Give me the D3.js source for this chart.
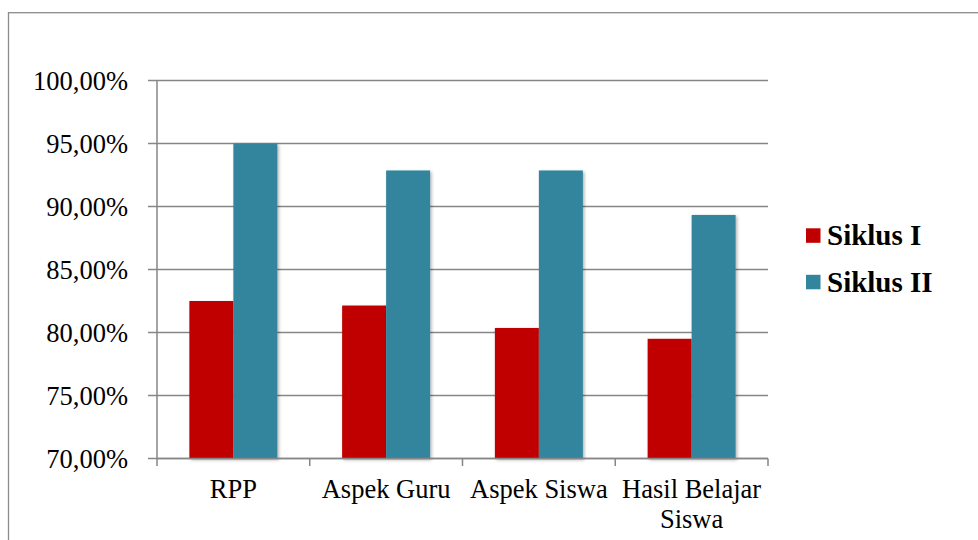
<!DOCTYPE html>
<html>
<head>
<meta charset="utf-8">
<script src="https://cdn.jsdelivr.net/npm/d3@7"></script>
<style>
  html, body { margin: 0; padding: 0; background: #fff; }
  svg { display: block; }
  text { font-family: "Liberation Serif", "Times New Roman", serif; fill: #000; }
</style>
</head>
<body>
<svg id="chart" width="978" height="540"></svg>
<script>
const categories = ["RPP", "Aspek Guru", "Aspek Siswa", "Hasil Belajar Siswa"];
const categoryLines = [["RPP"], ["Aspek Guru"], ["Aspek Siswa"], ["Hasil Belajar", "Siswa"]];
const seriesNames = ["Siklus I", "Siklus II"];
const siklus1 = [0.825, 0.8214, 0.8036, 0.795];
const siklus2 = [0.95, 0.9286, 0.9286, 0.8933];
const yTicks = [0.70, 0.75, 0.80, 0.85, 0.90, 0.95, 1.00];
const colors = ["#C00000", "#31859C"];

const svg = d3.select("#chart");
const W = 978, H = 540;
const plot = { left: 157, right: 768, top: 80.5, bottom: 458.5 };

const defs = svg.append("defs");
const f = defs.append("filter").attr("id", "shadow").attr("x", "-20%").attr("y", "-20%").attr("width", "150%").attr("height", "150%");
f.append("feDropShadow").attr("dx", 1.5).attr("dy", 1.5).attr("stdDeviation", 1.5).attr("flood-color", "#000").attr("flood-opacity", 0.3);

// outer frame
svg.append("rect").attr("x", 8.5).attr("y", 12.7).attr("width", W + 20).attr("height", H + 20)
  .attr("fill", "none").attr("stroke", "#8c8c8c").attr("stroke-width", 1.3);

const locale = d3.formatLocale({ decimal: ",", thousands: ".", grouping: [3], currency: ["", ""] });
const fmt = locale.format(".2%");

const y = d3.scaleLinear().domain([0.70, 1.00]).range([plot.bottom, plot.top]);
const x0 = d3.scaleBand().domain(categories).range([plot.left, plot.right]).padding(0);
const x1 = d3.scaleBand().domain(seriesNames).range([0, x0.bandwidth()]).paddingInner(0).paddingOuter(0.736);

const gridColor = "#868686";

// gridlines
svg.append("g").selectAll("line").data(yTicks).join("line")
  .attr("x1", plot.left - 9).attr("x2", plot.right)
  .attr("y1", d => y(d)).attr("y2", d => y(d))
  .attr("stroke", gridColor).attr("stroke-width", 1.5);

// y axis line
svg.append("line").attr("x1", plot.left).attr("x2", plot.left)
  .attr("y1", plot.top).attr("y2", plot.bottom)
  .attr("stroke", gridColor).attr("stroke-width", 1.5);

// y labels
const yAxis = d3.axisLeft(y).tickValues(yTicks).tickFormat(fmt).tickSize(0).tickPadding(0);
const yg = svg.append("g").attr("transform", `translate(${plot.left - 29},0)`).call(yAxis);
yg.select(".domain").remove();
yg.attr("font-family", null);
yg.selectAll("text").attr("font-size", "26.5px").attr("fill", "#000").attr("dy", "0.33em");

// bars
const groups = svg.append("g").selectAll("g").data(categories).join("g")
  .attr("transform", d => `translate(${x0(d)},0)`);
groups.selectAll("rect")
  .data((d, i) => [siklus1[i], siklus2[i]].map((v, j) => ({ s: seriesNames[j], v, j })))
  .join("rect")
  .attr("x", d => x1(d.s)).attr("width", x1.bandwidth())
  .attr("y", d => y(d.v)).attr("height", d => y(0.70) - y(d.v))
  .attr("fill", d => colors[d.j])
  .attr("filter", "url(#shadow)");

// x axis line + ticks
svg.append("line").attr("x1", plot.left).attr("x2", plot.right)
  .attr("y1", plot.bottom).attr("y2", plot.bottom)
  .attr("stroke", gridColor).attr("stroke-width", 1.5);
const tickXs = categories.map(c => x0(c)).concat([plot.right]);
svg.append("g").selectAll("line").data(tickXs).join("line")
  .attr("x1", d => d).attr("x2", d => d)
  .attr("y1", plot.bottom).attr("y2", plot.bottom + 7.5)
  .attr("stroke", gridColor).attr("stroke-width", 1.5);

// x labels
const xl = svg.append("g").selectAll("text").data(categories).join("text")
  .attr("x", d => x0(d) + x0.bandwidth() / 2)
  .attr("y", 498)
  .attr("text-anchor", "middle")
  .attr("font-size", "26.5px");
xl.each(function(d, i) {
  const t = d3.select(this);
  categoryLines[i].forEach((line, k) => {
    t.append("tspan").attr("x", x0(d) + x0.bandwidth() / 2).attr("dy", k === 0 ? 0 : 30).text(line);
  });
});

// legend
const lg = svg.append("g").selectAll("g").data(seriesNames).join("g")
  .attr("transform", (d, i) => `translate(806,${228.3 + i * 46.5})`);
lg.append("rect").attr("width", 14.5).attr("height", 14.5).attr("fill", (d, i) => colors[i]);
lg.append("text").attr("x", 21).attr("y", 16.8).attr("font-size", "29px").attr("font-weight", "bold").text(d => d);
</script>
</body>
</html>
